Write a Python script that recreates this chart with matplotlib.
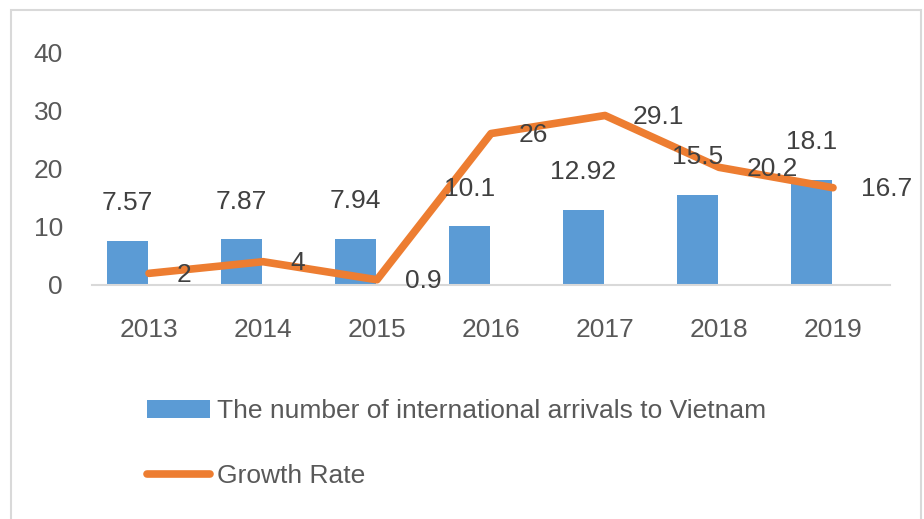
import matplotlib.pyplot as plt
from matplotlib.patches import Rectangle

# datos
years = ["2013", "2014", "2015", "2016", "2017", "2018", "2019"]
arrivals = [7.57, 7.87, 7.94, 10.1, 12.92, 15.5, 18.1]
growth = [2, 4, 0.9, 26, 29.1, 20.2, 16.7]
yticks = [0, 10, 20, 30, 40]

plt.rcParams['font.family'] = ['Liberation Sans', 'DejaVu Sans']
txt_color = '#404040'
fs = 19

fig = plt.figure(figsize=(9.24, 5.19), dpi=100)
ax = fig.add_axes([92/924, 1-285/519, 798/924, 233/519])

x = list(range(len(years)))
# las barras van corridas a la izquierda, la linea en el centro de la categoria
xb = [xi - 0.19 for xi in x]
bars = ax.bar(xb, arrivals, width=0.36, color='#5B9BD5', zorder=2,
              label='The number of international arrivals to Vietnam')
line, = ax.plot(x, growth, color='#ED7D31', lw=5.5, solid_capstyle='round',
                solid_joinstyle='round', zorder=3, label='Growth Rate')

# etiquetas de las barras
for xi, v in zip(xb, arrivals):
    ax.annotate(f"{v:g}", (xi, v), xytext=(0, 27), textcoords='offset points',
                ha='center', va='center', fontsize=fs, color=txt_color, zorder=4)

# etiquetas de la linea
for xi, v in zip(x, growth):
    ax.annotate(f"{v:g}", (xi, v), xytext=(20, -1), textcoords='offset points',
                ha='left', va='center', fontsize=fs, color=txt_color, zorder=4)

ax.set_xlim(-0.5, len(years) - 0.5)
ax.set_ylim(0, 40)
ax.set_yticks(yticks)
ax.set_xticks(x)
ax.set_xticklabels(years)
ax.tick_params(axis='both', length=0, labelsize=fs, labelcolor='#595959')
ax.tick_params(axis='y', pad=21)
ax.tick_params(axis='x', pad=24)
for s in ['top', 'right', 'left']:
    ax.spines[s].set_visible(False)
ax.spines['bottom'].set_color('#d9d9d9')
ax.spines['bottom'].set_linewidth(1.5)

leg = fig.legend(handles=[bars, line], loc='upper left',
                 bbox_to_anchor=(147/924, 1-399/519), frameon=False,
                 fontsize=fs, labelcolor='#595959', handlelength=2.4,
                 handletextpad=0.27, labelspacing=1.55, borderpad=0,
                 borderaxespad=0)

# borde gris de la figura
fig.patches.append(Rectangle((11/924, -0.1), 910/924, 1.1 - 10/519,
                             transform=fig.transFigure, fill=False,
                             edgecolor='#d9d9d9', lw=1.5))

fig.savefig('out.png', dpi=100)
